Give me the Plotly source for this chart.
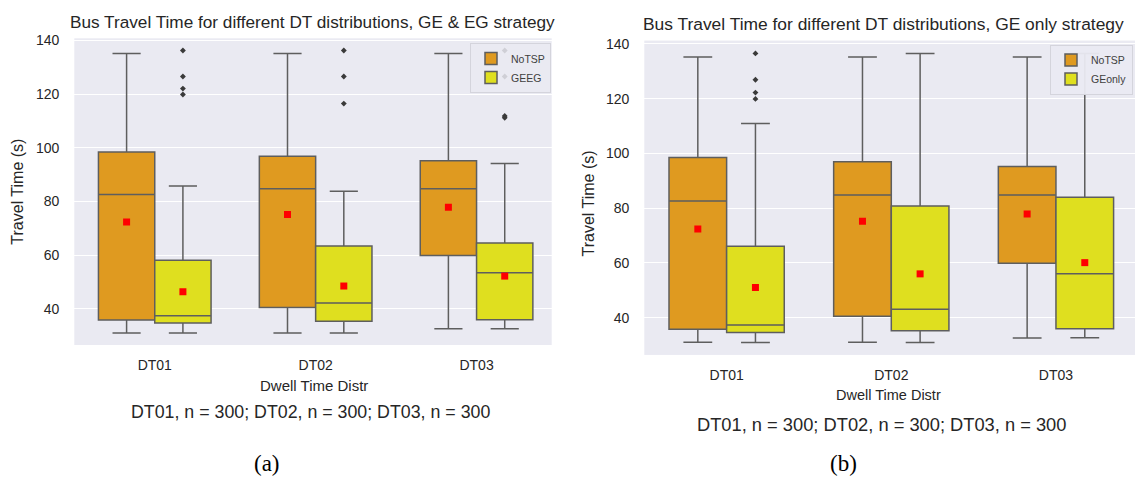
import plotly.graph_objects as go

W, H = 1137, 483

categories = ["DT01", "DT02", "DT03"]
y_ticks = [40, 60, 80, 100, 120, 140]

# NoTSP (same in both panels)
notsp_lo = [31.0, 31.0, 32.6]
notsp_q1 = [35.8, 40.5, 59.9]
notsp_med = [82.6, 84.8, 84.8]
notsp_q3 = [98.5, 96.9, 95.2]
notsp_hi = [135.2, 135.2, 135.2]
notsp_mean = [72.4, 75.2, 77.9]
notsp_out = [[], [], []]

# GEEG (panel a)
geeg_lo = [31.0, 31.0, 32.6]
geeg_q1 = [34.7, 35.4, 35.9]
geeg_med = [37.4, 42.2, 53.4]
geeg_q3 = [58.1, 63.4, 64.5]
geeg_hi = [85.8, 83.8, 94.2]
geeg_mean = [46.4, 48.5, 52.2]
geeg_out = [[136.3, 126.6, 122.1, 119.9], [136.3, 126.6, 116.5], [136.3, 126.6, 111.9, 111.2]]

# GEonly (panel b)
geonly_lo = [30.9, 30.9, 32.7]
geonly_q1 = [34.6, 35.2, 36.0]
geonly_med = [37.3, 43.1, 56.0]
geonly_q3 = [66.1, 80.8, 84.0]
geonly_hi = [110.9, 136.5, 136.5]
geonly_mean = [51.0, 56.0, 60.1]
geonly_out = [[136.5, 126.9, 122.2, 119.9], [], []]

ORANGE = "#df9a20"
YELLOW = "#dfdf1f"
EDGE = "#5e5e5e"
BG = "#eaeaf2"
TXT = "#262626"
FONT = "Liberation Sans, Arial, sans-serif"

BOXW = 0.35
OFF = 0.175

fig = go.Figure()


def add_group(name, color, lo, q1, med, q3, hi, mean, outs, sign, xa, ya, legend):
    xs = [i + sign * OFF for i in range(len(categories))]
    fig.add_trace(go.Box(
        x=xs, q1=q1, median=med, q3=q3, lowerfence=lo, upperfence=hi,
        width=BOXW, whiskerwidth=0.5, name=name, fillcolor=color,
        line=dict(color=EDGE, width=1.5), boxpoints=False,
        xaxis=xa, yaxis=ya, legend=legend, showlegend=True, hoverinfo="skip"))
    ox, oy = [], []
    for x, vals in zip(xs, outs):
        for v in vals:
            ox.append(x)
            oy.append(v)
    if ox:
        fig.add_trace(go.Scatter(
            x=ox, y=oy, mode="markers", xaxis=xa, yaxis=ya, showlegend=False,
            marker=dict(symbol="diamond", size=4.5, color="#3a3a3a"), hoverinfo="skip"))
    fig.add_trace(go.Scatter(
        x=xs, y=mean, mode="markers", xaxis=xa, yaxis=ya, showlegend=False,
        marker=dict(symbol="square", size=7, color="#ff0000"), hoverinfo="skip"))


add_group("NoTSP", ORANGE, notsp_lo, notsp_q1, notsp_med, notsp_q3, notsp_hi, notsp_mean, notsp_out, -1, "x", "y", "legend")
add_group("GEEG", YELLOW, geeg_lo, geeg_q1, geeg_med, geeg_q3, geeg_hi, geeg_mean, geeg_out, 1, "x", "y", "legend")
add_group("NoTSP", ORANGE, notsp_lo, notsp_q1, notsp_med, notsp_q3, notsp_hi, notsp_mean, notsp_out, -1, "x2", "y2", "legend2")
add_group("GEonly", YELLOW, geonly_lo, geonly_q1, geonly_med, geonly_q3, geonly_hi, geonly_mean, geonly_out, 1, "x2", "y2", "legend2")


def px_x(p):
    return p / W


def px_y(p):
    return 1 - p / H


xcommon = dict(tickmode="array", tickvals=list(range(len(categories))), ticktext=categories,
               showgrid=False, zeroline=False, showline=False, ticks="",
               tickfont=dict(family=FONT, size=14, color=TXT))
ycommon = dict(tickmode="array", tickvals=y_ticks, showgrid=True, gridcolor="white",
               gridwidth=1.3, zeroline=False, showline=False, ticks="",
               ticklabelstandoff=14, tickfont=dict(family=FONT, size=14, color=TXT))

fig.update_layout(
    width=W, height=H, margin=dict(l=0, r=0, t=0, b=0),
    paper_bgcolor="white", plot_bgcolor=BG, boxmode="overlay",
    xaxis=dict(domain=[px_x(74.3), px_x(551.7)], range=[-0.5, 2.467], anchor="y",
               ticklabelstandoff=10, **xcommon),
    yaxis=dict(domain=[px_y(343.3), px_y(32.7)], range=[26.5, 140.85], anchor="x", **ycommon),
    xaxis2=dict(domain=[px_x(644.3), px_x(1135)], range=[-0.5, 2.48], anchor="y2",
                ticklabelstandoff=10, **xcommon),
    yaxis2=dict(domain=[px_y(353.3), px_y(35)], range=[26.4, 141.2], anchor="x2", **ycommon),
    legend=dict(x=px_x(551), xanchor="right", y=px_y(37.5), yanchor="top",
                bgcolor="rgba(234,234,242,0.85)", bordercolor="#d4d4dc", borderwidth=1,
                font=dict(family=FONT, size=10.5, color="#404040"), itemwidth=30, tracegroupgap=0),
    legend2=dict(x=px_x(1133), xanchor="right", y=px_y(39), yanchor="top",
                 bgcolor="rgba(234,234,242,0.95)", bordercolor="#d4d4dc", borderwidth=1,
                 font=dict(family=FONT, size=10.5, color="#404040"), itemwidth=30, tracegroupgap=0),
)

anns = [
    dict(text="Bus Travel Time for different DT distributions, GE & EG strategy", x=68, y=16, xanchor="left", size=17.2, fam=FONT),
    dict(text="Bus Travel Time for different DT distributions, GE only strategy", x=641, y=18, xanchor="left", size=17.4, fam=FONT),
    dict(text="Dwell Time Distr", x=314, y=384, xanchor="center", size=15, fam=FONT),
    dict(text="Dwell Time Distr", x=888, y=394, xanchor="center", size=14.5, fam=FONT),
    dict(text="DT01, n = 300; DT02, n = 300; DT03, n = 300", x=310, y=411, xanchor="center", size=17.8, fam=FONT),
    dict(text="DT01, n = 300; DT02, n = 300; DT03, n = 300", x=882, y=424, xanchor="center", size=18.3, fam=FONT),
    dict(text="(a)", x=267, y=463, xanchor="center", size=23, fam="Liberation Serif, Times New Roman, serif"),
    dict(text="(b)", x=843, y=463, xanchor="center", size=23, fam="Liberation Serif, Times New Roman, serif"),
]
for a in anns:
    fig.add_annotation(text=a["text"], xref="paper", yref="paper", x=px_x(a["x"]), y=px_y(a["y"]),
                       xanchor=a["xanchor"], yanchor="middle", showarrow=False,
                       font=dict(family=a["fam"], size=a["size"], color=TXT if a["fam"] == FONT else "black"))

for x, y in [(18, 188), (589, 200)]:
    fig.add_annotation(text="Travel Time (s)", xref="paper", yref="paper", x=px_x(x), y=px_y(y),
                       xanchor="center", yanchor="middle", textangle=-90, showarrow=False,
                       font=dict(family=FONT, size=16, color=TXT))

fig.write_html("out.html")
